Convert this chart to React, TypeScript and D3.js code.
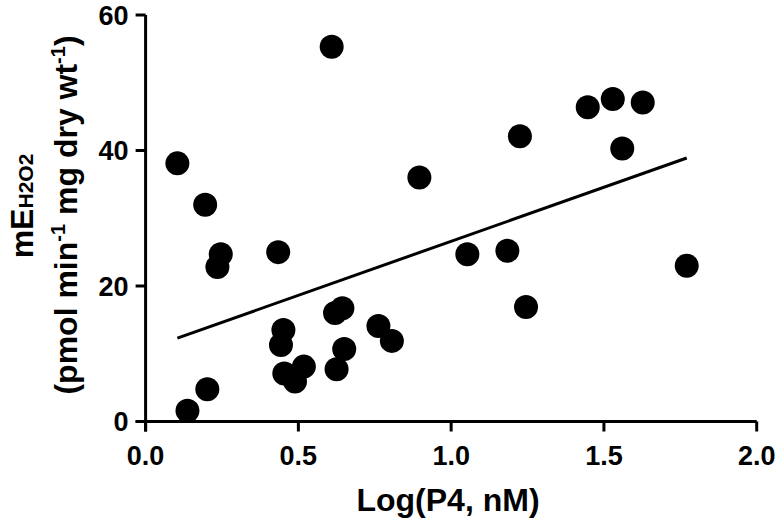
import React from "react";
import * as d3 from "d3";

const logP4 = [0.104, 0.195, 0.246, 0.235, 0.434, 0.609, 0.896, 0.451, 0.443, 0.454, 0.489, 0.518, 0.62, 0.644, 0.65, 0.625, 0.762, 0.806, 0.202, 0.137, 1.225, 1.447, 1.529, 1.627, 1.56, 1.053, 1.184, 1.245, 1.771];
const meH2O2 = [38.1, 32.0, 24.7, 22.8, 25.0, 55.3, 36.0, 13.5, 11.3, 7.1, 5.9, 8.1, 16.0, 16.7, 10.7, 7.7, 14.1, 11.9, 4.75, 1.6, 42.1, 46.4, 47.6, 47.1, 40.3, 24.7, 25.2, 16.9, 23.0];
const xTicks = [0, 0.5, 1.0, 1.5, 2.0];
const yTicks = [0, 20, 40, 60];
const fitSlope = 15.95;
const fitIntercept = 10.65;

const W = 780;
const H = 518;
const FONT = "'Liberation Sans', Arial, Helvetica, sans-serif";

export default function App() {
  const x = d3.scaleLinear().domain([0, 2]).range([145.6, 756.7]);
  const y = d3.scaleLinear().domain([0, 60]).range([421.5, 15]);
  const xMin = d3.min(logP4) as number;
  const xMax = d3.max(logP4) as number;
  const fitLine = d3.line<number>()
    .x((d) => x(d))
    .y((d) => y(fitIntercept + fitSlope * d));
  const tickLen = 10;
  return (
    <svg width={W} height={H} style={{ position: "absolute", left: 0, top: 0, background: "#fff" }} fontFamily={FONT}>
      <rect width={W} height={H} fill="#fff" />
      {/* axes */}
      <line x1={x(0)} x2={x(0)} y1={y(60)} y2={y(0) + tickLen} stroke="#000" strokeWidth={3} />
      <line x1={x(0) - tickLen} x2={x(2)} y1={y(0)} y2={y(0)} stroke="#000" strokeWidth={3} />
      {yTicks.map((t) => (
        <g key={"y" + t}>
          <line x1={x(0) - tickLen} x2={x(0)} y1={y(t)} y2={y(t)} stroke="#000" strokeWidth={3} />
          <text x={x(0) - 17} y={y(t)} dy="0.36em" textAnchor="end" fontSize={27} fontWeight="bold">{t}</text>
        </g>
      ))}
      {xTicks.map((t) => (
        <g key={"x" + t}>
          <line x1={x(t)} x2={x(t)} y1={y(0)} y2={y(0) + tickLen} stroke="#000" strokeWidth={3} />
          <text x={x(t)} y={465} textAnchor="middle" fontSize={27} fontWeight="bold">{t.toFixed(1)}</text>
        </g>
      ))}
      {/* regression line */}
      <path d={fitLine([xMin, xMax]) || ""} stroke="#000" strokeWidth={3} fill="none" />
      {/* points */}
      {logP4.map((v, i) => (
        <circle key={i} cx={x(v)} cy={y(meH2O2[i])} r={12} fill="#000" />
      ))}
      {/* axis titles */}
      <text x={448} y={511} textAnchor="middle" fontSize={32} fontWeight="bold">Log(P4, nM)</text>
      <text transform="translate(33,206) rotate(-90)" textAnchor="middle" fontSize={32} fontWeight="bold">
        mE<tspan fontSize={21}>H2O2</tspan>
      </text>
      <text transform="translate(77,215) rotate(-90)" textAnchor="middle" fontSize={32} fontWeight="bold">
        (pmol min<tspan fontSize={20} dy={-12}>-1</tspan><tspan dy={12}> mg dry wt</tspan><tspan fontSize={20} dy={-12}>-1</tspan><tspan dy={12}>)</tspan>
      </text>
    </svg>
  );
}
